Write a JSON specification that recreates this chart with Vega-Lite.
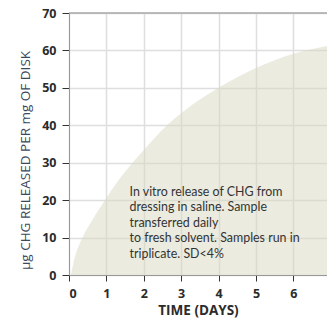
{
  "$schema": "https://vega.github.io/schema/vega-lite/v6.json",
  "width": 258,
  "height": 262,
  "autosize": "none",
  "padding": {"left": 69, "top": 13, "right": 0, "bottom": 46},
  "background": "white",
  "config": {
    "view": {"stroke": null},
    "axis": {
      "grid": true, "gridColor": "#dedede", "gridWidth": 1.5, "gridOpacity": 1,
      "labelFont": "Open Sans", "labelFontWeight": "bold", "labelFontSize": 12.5, "labelColor": "#2b2b2b",
      "labelPadding": 6, "labelOverlap": false,
      "tickColor": "#333", "domainColor": "#999"
    }
  },
  "datasets": {
    "release": [
      {"day": 0.05, "chg": 0},
      {"day": 0.15, "chg": 4.5},
      {"day": 0.36, "chg": 10},
      {"day": 0.6, "chg": 14.3},
      {"day": 0.96, "chg": 20},
      {"day": 1.3, "chg": 25},
      {"day": 1.7, "chg": 30},
      {"day": 2.0, "chg": 33.4},
      {"day": 2.6, "chg": 39.8},
      {"day": 3.0, "chg": 43.2},
      {"day": 4.0, "chg": 50.0},
      {"day": 5.0, "chg": 55.3},
      {"day": 6.0, "chg": 59.1},
      {"day": 6.9, "chg": 61.2}
    ],
    "note": [
      {"day": 1.62, "chg": 21.2, "label": "In vitro release of CHG from\ndressing in saline. Sample\ntransferred daily\nto fresh solvent. Samples run in\ntriplicate. SD<4%"}
    ],
    "top": [{"day": 0, "day2": 6.9, "chg": 70}]
  },
  "encoding": {
    "x": {
      "field": "day", "type": "quantitative",
      "scale": {"domain": [0, 6.9], "nice": false, "zero": true},
      "axis": {
        "values": [0, 1, 2, 3, 4, 5, 6],
        "grid": true,
        "title": "TIME (DAYS)",
        "titleFont": "Open Sans", "titleFontWeight": "bold", "titleFontSize": 13.5, "titleColor": "#2b2b2b",
        "titlePadding": 4,
        "tickSize": 6
      }
    },
    "y": {
      "field": "chg", "type": "quantitative",
      "scale": {"domain": [0, 70], "nice": false},
      "axis": {
        "values": [0, 10, 20, 30, 40, 50, 60, 70],
        "grid": true,
        "title": "µg CHG RELEASED PER mg OF DISK",
        "titleFont": "Open Sans", "titleFontWeight": "normal", "titleFontSize": 13.5, "titleColor": "#3a4a5c",
        "titleY": 147, "titlePadding": 9,
        "tickSize": 7
      }
    }
  },
  "layer": [
    {
      "data": {"name": "release"},
      "mark": {"type": "area", "interpolate": "monotone", "color": "#d7d7c1", "opacity": 0.5, "clip": true}
    },
    {
      "data": {"name": "top"},
      "mark": {"type": "rule", "color": "#a8a8a8", "strokeWidth": 1.5},
      "encoding": {"x2": {"field": "day2"}}
    },
    {
      "data": {"name": "note"},
      "mark": {"type": "text", "align": "left", "baseline": "alphabetic", "lineBreak": "\n", "lineHeight": 15.5, "font": "Lato", "fontSize": 12.4, "color": "#333"},
      "encoding": {
        "text": {"field": "label"}
      }
    }
  ]
}
